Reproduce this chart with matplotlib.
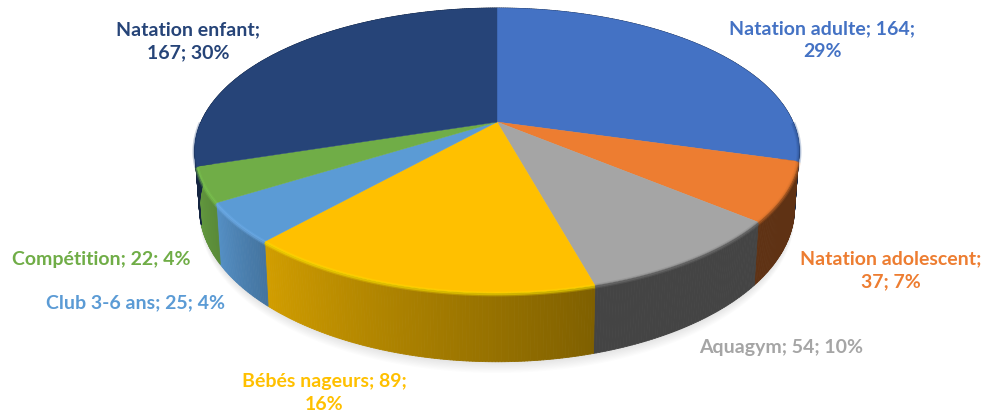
import numpy as np
import matplotlib
matplotlib.use('Agg')
import matplotlib.pyplot as plt
from matplotlib.collections import PolyCollection
from matplotlib.colors import to_rgb

# chart data, clockwise from 12 o'clock
categories = ['Natation adulte', 'Natation adolescent', 'Aquagym', 'Bébés nageurs',
              'Club 3-6 ans', 'Compétition', 'Natation enfant']
values = [164, 37, 54, 89, 25, 22, 167]
percents = [29, 7, 10, 16, 4, 4, 30]
colors = ['#4472C4', '#ED7D31', '#A5A5A5', '#FFC000', '#5B9BD5', '#70AD47', '#264478']
rim_colors = ['#2F5597', '#C96A28', '#777777', '#FFE600', '#74B4F2', '#7FCB52', '#264478']
# wall brightness at the start and end of each slice
wall_start = [0.35, 0.40, 0.41, 0.50, 0.75, 0.80, 0.55]
wall_end = [0.35, 0.40, 0.41, 0.82, 0.92, 0.88, 0.45]

# label layout
label_breaks = ['Natation adulte; 164;\n29%', 'Natation adolescent;\n37; 7%',
                'Aquagym; 54; 10%', 'Bébés nageurs; 89;\n16%',
                'Club 3-6 ans; 25; 4%', 'Compétition; 22; 4%', 'Natation enfant;\n167; 30%']
label_x = [822, 891, 781, 324, 136, 101, 188]
label_y = [40, 270, 347, 393, 303, 259, 41]

# perspective of the disc
CX, CY = 497, 122
A, B, K = 296, 136.8, 0.2
DEPTH = 55


def project(theta, r=1.0, drop=0.0, shrink=1.0):
    """Unit disc (clockwise angle from top, degrees) to pixel position."""
    t = np.radians(theta)
    u, v = r * np.sin(t), -r * np.cos(t)
    s = 1.0 / (1.0 - K * v)
    return CX + A * u * s * shrink, CY + B * v * s + drop * s


fig = plt.figure(figsize=(9.86, 4.16), dpi=100)
ax = fig.add_axes([0, 0, 1, 1])
ax.set_xlim(0, 986)
ax.set_ylim(416, 0)
ax.axis('off')

edges = np.concatenate([[0], np.cumsum(values)]) / np.sum(values) * 360

# soft shadow below the wall
th = np.linspace(0, 360, 361)
for off in range(1, 10):
    sx, sy = project(th, drop=DEPTH + off, shrink=0.985)
    ax.fill(sx, sy, color='#000000', alpha=0.012, lw=0, zorder=1)

# walls
for i, col in enumerate(colors):
    ts = np.linspace(edges[i], edges[i + 1], max(int(edges[i + 1] - edges[i]) * 2, 4))
    x1, y1 = project(ts)
    x2, y2 = project(ts, drop=DEPTH, shrink=0.985)
    shade = np.linspace(wall_start[i], wall_end[i], len(ts) - 1)
    base = np.array(to_rgb(col))
    polys = [[(x1[j], y1[j]), (x1[j + 1], y1[j + 1]), (x2[j + 1], y2[j + 1]), (x2[j], y2[j])]
             for j in range(len(ts) - 1)]
    cols = [base * s for s in shade]
    ax.add_collection(PolyCollection(polys, facecolors=cols, edgecolors=cols, linewidths=0.6, zorder=2))

# top face
for i, col in enumerate(colors):
    ts = np.linspace(edges[i], edges[i + 1], 120)
    x, y = project(ts)
    ax.fill(np.r_[CX, x], np.r_[CY, y], color=col, lw=0.3, zorder=3)

# bevel along the rim, front part only
for i, col in enumerate(rim_colors):
    lo, hi = max(edges[i], 90), min(edges[i + 1], 270)
    if lo >= hi:
        continue
    ts = np.linspace(lo, hi, 120)
    x, y = project(ts)
    for lw, al in [(3.5, 0.25), (1.8, 0.45)]:
        ax.plot(x, y + 1, color=col, lw=lw, alpha=al, solid_capstyle='butt', zorder=4)

for txt, lx, ly, col in zip(label_breaks, label_x, label_y, colors):
    ax.text(lx, ly, txt, color=col, fontsize=14, fontweight='bold', family='Lato',
            ha='center', va='center', linespacing=1.42, zorder=5)

fig.savefig('out.png', dpi=100)
